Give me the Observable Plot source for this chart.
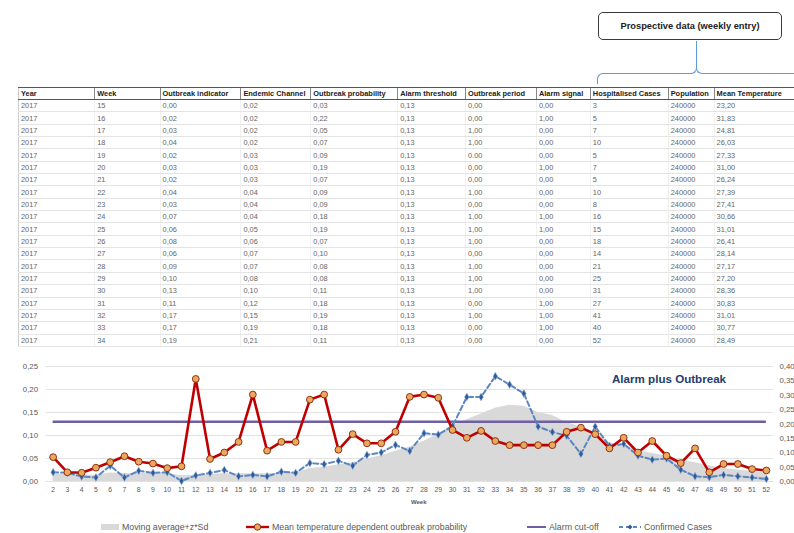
<!DOCTYPE html>
<html><head><meta charset="utf-8">
<script src="https://cdn.jsdelivr.net/npm/d3@7"></script>
<script src="https://cdn.jsdelivr.net/npm/@observablehq/plot@0.6"></script>
<style>
body{margin:0;width:794px;height:533px;position:relative;overflow:hidden;background:#fff;font-family:"Liberation Sans",Arial,sans-serif;}
.abs{position:absolute;}
#tbl{left:18px;top:87px;width:776px;overflow:hidden;}
table{border-collapse:collapse;table-layout:fixed;font-size:7.4px;}
th{font-weight:bold;color:#1a1a1a;text-align:left;height:11px;padding:0 0 0 2px;border-top:1px solid #555;border-bottom:1px solid #555;border-left:1px solid #888;white-space:nowrap;overflow:hidden;}
th:first-child{border-left:1px solid #ccc;}
td{color:#666;height:11.35px;padding:0 0 0 2px;border-bottom:1px solid #e4e4e4;border-left:1px solid #f0f0f0;white-space:nowrap;}
td:first-child{border-left:1px solid #ccc;}
#pbox{left:598px;top:12px;width:184px;height:28px;border:1.3px solid #3a3a3a;border-radius:5px;font-weight:bold;font-size:9.3px;color:#222;display:flex;align-items:center;justify-content:center;box-sizing:border-box;}
.blue{border-color:#5b9bd5;border-style:solid;border-width:0;}
#legend{left:0;top:520px;width:794px;height:13px;font-size:8.8px;color:#595959;}
.li{position:absolute;top:0;display:flex;align-items:center;height:13px;white-space:nowrap;}
#title{left:612px;top:372px;font-weight:bold;font-size:11.6px;color:#233d6c;white-space:nowrap;}
</style></head><body>
<div id="pbox" class="abs">Prospective data (weekly entry)</div>
<div class="abs blue" style="left:696px;top:41px;height:26px;border-left-width:1.5px;"></div>
<div class="abs blue" style="left:597px;top:73px;width:94px;height:10px;border-top-width:1.5px;border-left-width:1.5px;border-top-left-radius:6px;"></div>
<div class="abs blue" style="left:690px;top:67px;width:6px;height:6px;border-bottom-width:1.5px;border-right-width:1.5px;border-bottom-right-radius:6px;"></div>
<div class="abs blue" style="left:696px;top:67px;width:6px;height:6px;border-bottom-width:1.5px;border-left-width:1.5px;border-bottom-left-radius:6px;"></div>
<div class="abs blue" style="left:702px;top:73px;width:100px;height:0;border-top-width:1.5px;"></div>
<div id="tbl" class="abs"></div>
<div id="chart" class="abs" style="left:0;top:355px;"></div>
<div id="title" class="abs">Alarm plus Outbreak</div>
<div id="legend" class="abs"></div>
<script>
// ---------- table data ----------
const tableHeaders = ["Year","Week","Outbreak indicator","Endemic Channel","Outbreak probability","Alarm threshold","Outbreak period","Alarm signal","Hospitalised Cases","Population","Mean Temperature"];
const colWidths = [77,66,81,70,87,68,71,54,78,46,80];
const tYear = [2017,2017,2017,2017,2017,2017,2017,2017,2017,2017,2017,2017,2017,2017,2017,2017,2017,2017,2017,2017];
const tWeek = [15,16,17,18,19,20,21,22,23,24,25,26,27,28,29,30,31,32,33,34];
const tOutbreakIndicator = ["0,00","0,02","0,03","0,04","0,02","0,03","0,02","0,04","0,03","0,07","0,06","0,08","0,06","0,09","0,10","0,13","0,11","0,17","0,17","0,19"];
const tEndemicChannel = ["0,02","0,02","0,02","0,02","0,03","0,03","0,03","0,04","0,04","0,04","0,05","0,06","0,07","0,07","0,08","0,10","0,12","0,15","0,19","0,21"];
const tOutbreakProbability = ["0,03","0,22","0,05","0,07","0,09","0,19","0,07","0,09","0,09","0,18","0,19","0,07","0,10","0,08","0,08","0,11","0,18","0,19","0,18","0,11"];
const tAlarmThreshold = ["0,13","0,13","0,13","0,13","0,13","0,13","0,13","0,13","0,13","0,13","0,13","0,13","0,13","0,13","0,13","0,13","0,13","0,13","0,13","0,13"];
const tOutbreakPeriod = ["0,00","0,00","1,00","1,00","0.00","0,00","0,00","1,00","0,00","1,00","1,00","1,00","0,00","1,00","1,00","1,00","0,00","1,00","0,00","0,00"];
const tAlarmSignal = ["0,00","1,00","0,00","0,00","0,00","1,00","0,00","0,00","0,00","1,00","1,00","0,00","0,00","0,00","0,00","0,00","1,00","1,00","1,00","0,00"];
const tHospitalised = [3,5,7,10,5,7,5,10,8,16,15,18,14,21,25,31,27,41,40,52];
const tPopulation = [240000,240000,240000,240000,240000,240000,240000,240000,240000,240000,240000,240000,240000,240000,240000,240000,240000,240000,240000,240000];
const tMeanTemp = ["23,20","31,83","24,81","26,03","27,33","31,00","26,24","27,39","27,41","30,66","31,01","26,41","28,14","27,17","27,20","28,36","30,83","31,01","30,77","28,49"];

// ---------- chart data ----------
const chartWeeks = [2,3,4,5,6,7,8,9,10,11,12,13,14,15,16,17,18,19,20,21,22,23,24,25,26,27,28,29,30,31,32,33,34,35,36,37,38,39,40,41,42,43,44,45,46,47,48,49,50,51,52];
// left axis
const outbreakProbability = [0.053,0.020,0.019,0.030,0.042,0.055,0.043,0.039,0.029,0.033,0.223,
  0.049,0.063,0.086,0.189,0.067,0.086,0.086,0.178,0.189,0.069,0.103,0.083,0.083,
  0.108,0.184,0.189,0.182,0.112,0.095,0.110,0.088,0.079,0.079,0.079,0.079,0.108,
  0.117,0.103,0.072,0.095,0.063,0.088,0.056,0.040,0.072,0.020,0.038,0.038,0.027,0.024];
// right axis
const confirmedCases = [0.032,0.030,0.017,0.014,0.055,0.014,0.037,0.030,0.032,0.002,0.021,
  0.030,0.040,0.018,0.023,0.018,0.034,0.030,0.064,0.060,0.072,0.055,0.092,0.101,
  0.127,0.106,0.168,0.163,0.193,0.294,0.294,0.366,0.337,0.306,0.191,0.172,0.159,
  0.096,0.191,0.124,0.131,0.090,0.076,0.080,0.041,0.018,0.015,0.023,0.018,0.014,0.009];
const movingAverage = [0.025,0.025,0.022,0.022,0.030,0.028,0.028,0.028,0.027,0.020,0.022,
  0.025,0.027,0.027,0.027,0.027,0.028,0.030,0.045,0.050,0.058,0.065,0.078,0.090,
  0.105,0.120,0.140,0.165,0.195,0.215,0.235,0.255,0.265,0.262,0.240,0.230,0.205,
  0.190,0.170,0.135,0.125,0.107,0.097,0.090,0.075,0.065,0.055,0.045,0.040,0.035,0.030];
const alarmCutoff = 0.13;
const leftTicks = [0,0.05,0.10,0.15,0.20,0.25];
const rightTicks = [0,0.05,0.10,0.15,0.20,0.25,0.30,0.35,0.40];
const legendLabels = ["Moving average+z*Sd","Mean temperature dependent outbreak probability","Alarm cut-off","Confirmed Cases"];

// ---------- table ----------
const cols = [tYear,tWeek,tOutbreakIndicator,tEndemicChannel,tOutbreakProbability,tAlarmThreshold,tOutbreakPeriod,tAlarmSignal,tHospitalised,tPopulation,tMeanTemp];
let html = "<table><colgroup>" + colWidths.map(w=>`<col style="width:${w}px">`).join("") + "</colgroup><tr>" +
  tableHeaders.map(h=>`<th>${h}</th>`).join("") + "</tr>";
tWeek.forEach((_,i)=>{ html += "<tr>" + cols.map(c=>`<td>${c[i]}</td>`).join("") + "</tr>"; });
html += "</table>";
document.getElementById("tbl").innerHTML = html;

// ---------- chart ----------
const fmt = d => d.toFixed(2).replace(".", ",");
const k = 0.25/0.40;
const rows = chartWeeks.map((w,i)=>({week:w, prob:outbreakProbability[i], cases:confirmedCases[i]*k, ma:movingAverage[i]*k}));
const chart = Plot.plot({
  width:794, height:155,
  marginLeft:45.5, marginRight:21, marginTop:11, marginBottom:29,
  x:{domain:[1.5,52.5]},
  y:{domain:[0,0.25]},
  style:{fontFamily:"Liberation Sans, Arial, sans-serif", color:"#595959", background:"transparent"},
  marks:[
    Plot.gridY(leftTicks,{stroke:"#e3e3e3", strokeOpacity:1}),
    Plot.areaY(rows,{x:"week", y:"ma", fill:"#d9d9d9"}),
    Plot.ruleY([alarmCutoff],{x1:chartWeeks[0], x2:chartWeeks[chartWeeks.length-1], stroke:"#6f5ea3", strokeWidth:2.6}),
    Plot.lineY(rows,{x:"week", y:"cases", stroke:"#5a86c2", strokeWidth:2, strokeDasharray:"5,3"}),
    Plot.dot(rows,{x:"week", y:"cases", symbol:"diamond", r:2.4, fill:"#2f5a9a", stroke:"#9fb8dd", strokeWidth:0.6}),
    Plot.lineY(rows,{x:"week", y:"prob", stroke:"#c00000", strokeWidth:2.6}),
    Plot.dot(rows,{x:"week", y:"prob", r:3.4, fill:"#eba75e", stroke:"#8e3312", strokeWidth:1}),
    Plot.axisY(leftTicks,{tickSize:0, tickPadding:8, tickFormat:fmt, fontSize:7.8, label:null}),
    Plot.text(rightTicks,{y:d=>d*k, text:fmt, frameAnchor:"right", dx:6, textAnchor:"start", fontSize:7.8, fill:"#595959"}),
    Plot.axisX(chartWeeks,{tickSize:0, tickPadding:6, fontSize:6.8, label:null}),
    Plot.text(["Week"],{frameAnchor:"bottom", dx:9, dy:22, fontSize:6, fontWeight:"bold", fill:"#595959"})
  ]
});
document.getElementById("chart").appendChild(chart);

// ---------- legend ----------
const lg = document.getElementById("legend");
const items = [
  {x:101, sw:`<svg width="18" height="8"><rect x="0" y="1" width="18" height="6" fill="#d9d9d9"/></svg>`},
  {x:246, sw:`<svg width="23" height="10"><line x1="0" y1="5" x2="23" y2="5" stroke="#c00000" stroke-width="2.4"/><circle cx="11.5" cy="5" r="3.2" fill="#eba75e" stroke="#8e3312" stroke-width="1"/></svg>`},
  {x:527, sw:`<svg width="19" height="8"><line x1="0" y1="4" x2="19" y2="4" stroke="#6f5ea3" stroke-width="2"/></svg>`},
  {x:619, sw:`<svg width="22" height="8"><line x1="0" y1="4" x2="22" y2="4" stroke="#5a86c2" stroke-width="2" stroke-dasharray="4,3"/><path d="M11,1.6 L13.4,4 L11,6.4 L8.6,4 Z" fill="#2f5a9a"/></svg>`}
];
items.forEach((it,i)=>{
  const d = document.createElement("div");
  d.className = "li"; d.style.left = it.x + "px";
  d.innerHTML = it.sw + `<span style="margin-left:3px">${legendLabels[i]}</span>`;
  lg.appendChild(d);
});
</script>
</body></html>
